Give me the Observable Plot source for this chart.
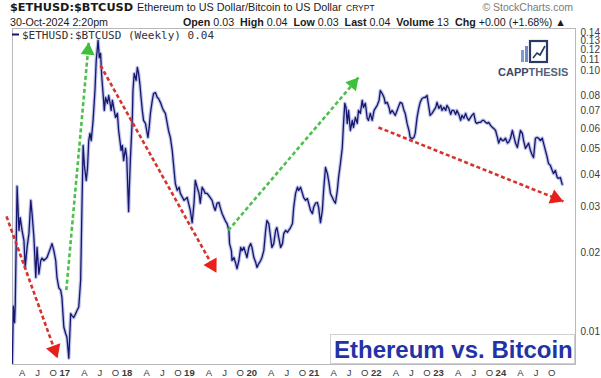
<!DOCTYPE html>
<html><head><meta charset="utf-8">
<script src="https://cdn.jsdelivr.net/npm/d3@7"></script>
<script src="https://cdn.jsdelivr.net/npm/@observablehq/plot@0.6"></script>
<style>
html,body{margin:0;padding:0;background:#fff;}
#wrap{position:relative;width:601px;height:378px;overflow:hidden;background:#fff;}
#wrap svg{position:absolute;left:0;top:0;}
</style></head><body><div id="wrap"></div>
<script>
// ETH/BTC weekly close (decimal year, ratio)
const years = [2016.09,2016.11,2016.13,2016.14,2016.17,2016.20,2016.22,2016.25,2016.28,2016.30,2016.33,2016.36,2016.39,2016.41,2016.44,2016.47,2016.49,2016.52,2016.55,2016.57,2016.60,2016.65,2016.71,2016.73,2016.76,2016.79,2016.81,2016.84,2016.87,2016.89,2016.92,2016.95,2016.97,2017.00,2017.03,2017.05,2017.08,2017.11,2017.13,2017.16,2017.19,2017.21,2017.23,2017.25,2017.28,2017.30,2017.32,2017.34,2017.36,2017.39,2017.42,2017.44,2017.47,2017.49,2017.51,2017.53,2017.55,2017.57,2017.59,2017.62,2017.64,2017.66,2017.68,2017.70,2017.72,2017.75,2017.78,2017.80,2017.82,2017.84,2017.86,2017.88,2017.91,2017.93,2017.94,2017.96,2017.97,2017.99,2018.02,2018.03,2018.05,2018.08,2018.10,2018.12,2018.14,2018.16,2018.18,2018.20,2018.23,2018.25,2018.27,2018.29,2018.31,2018.34,2018.36,2018.39,2018.42,2018.44,2018.47,2018.50,2018.52,2018.55,2018.58,2018.60,2018.63,2018.66,2018.69,2018.71,2018.74,2018.77,2018.79,2018.85,2018.90,2018.95,2018.98,2019.01,2019.03,2019.06,2019.09,2019.11,2019.14,2019.17,2019.19,2019.22,2019.27,2019.30,2019.33,2019.35,2019.38,2019.41,2019.43,2019.46,2019.49,2019.51,2019.54,2019.57,2019.58,2019.61,2019.62,2019.65,2019.68,2019.70,2019.73,2019.76,2019.78,2019.81,2019.84,2019.86,2019.89,2019.92,2019.94,2019.97,2020.00,2020.02,2020.05,2020.08,2020.10,2020.13,2020.16,2020.18,2020.21,2020.24,2020.26,2020.29,2020.32,2020.34,2020.37,2020.40,2020.43,2020.45,2020.48,2020.51,2020.53,2020.56,2020.59,2020.61,2020.64,2020.67,2020.69,2020.72,2020.75,2020.77,2020.80,2020.83,2020.85,2020.88,2020.91,2020.93,2020.96,2020.99,2021.01,2021.04,2021.07,2021.09,2021.12,2021.15,2021.17,2021.20,2021.23,2021.25,2021.28,2021.31,2021.33,2021.36,2021.39,2021.41,2021.43,2021.45,2021.47,2021.49,2021.52,2021.55,2021.57,2021.60,2021.63,2021.65,2021.68,2021.71,2021.73,2021.76,2021.79,2021.81,2021.84,2021.87,2021.90,2021.92,2021.95,2021.98,2022.00,2022.03,2022.06,2022.08,2022.11,2022.14,2022.16,2022.19,2022.22,2022.24,2022.27,2022.30,2022.32,2022.35,2022.38,2022.40,2022.43,2022.46,2022.48,2022.51,2022.54,2022.56,2022.59,2022.62,2022.64,2022.67,2022.70,2022.72,2022.75,2022.78,2022.80,2022.83,2022.86,2022.89,2022.91,2022.94,2022.97,2022.99,2023.02,2023.05,2023.07,2023.10,2023.13,2023.15,2023.18,2023.21,2023.23,2023.26,2023.29,2023.31,2023.34,2023.37,2023.39,2023.42,2023.45,2023.47,2023.50,2023.53,2023.55,2023.58,2023.61,2023.64,2023.66,2023.69,2023.72,2023.74,2023.77,2023.80,2023.82,2023.85,2023.88,2023.90,2023.93,2023.96,2023.98,2024.01,2024.04,2024.06,2024.09,2024.12,2024.14,2024.17,2024.20,2024.22,2024.25,2024.28,2024.30,2024.33,2024.36,2024.38,2024.41,2024.44,2024.46,2024.49,2024.52,2024.54,2024.57,2024.60,2024.62,2024.65,2024.68,2024.70,2024.73,2024.76,2024.78,2024.81,2024.84,2024.86,2024.89,2024.92];
const values = [0.0068,0.0125,0.0108,0.0126,0.0360,0.0244,0.0273,0.0244,0.0223,0.0176,0.0210,0.0237,0.0318,0.0283,0.0229,0.0161,0.0210,0.0166,0.0187,0.0191,0.0187,0.0192,0.0210,0.0217,0.0204,0.0187,0.0161,0.0147,0.0144,0.0135,0.0104,0.0098,0.0095,0.0079,0.0117,0.0115,0.0113,0.0117,0.0120,0.0124,0.0157,0.0291,0.0516,0.0433,0.0379,0.0421,0.0539,0.0574,0.0539,0.0644,0.0838,0.1092,0.1303,0.1120,0.1162,0.0940,0.0816,0.0703,0.0788,0.0748,0.0802,0.0755,0.0703,0.0768,0.0722,0.0661,0.0685,0.0589,0.0539,0.0494,0.0516,0.0452,0.0503,0.0464,0.0396,0.0288,0.0347,0.0464,0.0661,0.0838,0.0974,0.0916,0.1027,0.0974,0.0892,0.0788,0.0703,0.0644,0.0627,0.0589,0.0554,0.0605,0.0685,0.0768,0.0816,0.0823,0.0788,0.0781,0.0755,0.0722,0.0703,0.0685,0.0627,0.0589,0.0554,0.0494,0.0414,0.0369,0.0347,0.0357,0.0338,0.0318,0.0326,0.0291,0.0261,0.0310,0.0379,0.0357,0.0338,0.0310,0.0357,0.0347,0.0338,0.0338,0.0326,0.0318,0.0299,0.0291,0.0310,0.0312,0.0299,0.0283,0.0273,0.0266,0.0259,0.0244,0.0217,0.0204,0.0187,0.0192,0.0182,0.0174,0.0187,0.0210,0.0204,0.0210,0.0199,0.0192,0.0210,0.0217,0.0210,0.0192,0.0184,0.0176,0.0182,0.0187,0.0192,0.0204,0.0244,0.0266,0.0259,0.0229,0.0210,0.0217,0.0244,0.0250,0.0229,0.0210,0.0217,0.0237,0.0244,0.0240,0.0244,0.0250,0.0259,0.0299,0.0338,0.0357,0.0347,0.0357,0.0338,0.0326,0.0318,0.0323,0.0310,0.0291,0.0283,0.0299,0.0310,0.0312,0.0299,0.0261,0.0291,0.0347,0.0425,0.0403,0.0379,0.0338,0.0326,0.0318,0.0310,0.0347,0.0389,0.0440,0.0507,0.0627,0.0748,0.0722,0.0627,0.0703,0.0589,0.0644,0.0605,0.0661,0.0627,0.0703,0.0685,0.0768,0.0722,0.0748,0.0656,0.0644,0.0685,0.0644,0.0703,0.0716,0.0735,0.0768,0.0838,0.0816,0.0788,0.0748,0.0755,0.0722,0.0685,0.0703,0.0685,0.0673,0.0703,0.0735,0.0755,0.0748,0.0703,0.0685,0.0627,0.0589,0.0554,0.0548,0.0554,0.0574,0.0661,0.0722,0.0755,0.0781,0.0788,0.0788,0.0802,0.0722,0.0673,0.0685,0.0703,0.0722,0.0755,0.0716,0.0735,0.0703,0.0722,0.0703,0.0735,0.0716,0.0679,0.0703,0.0703,0.0679,0.0703,0.0679,0.0644,0.0673,0.0656,0.0685,0.0661,0.0644,0.0661,0.0673,0.0685,0.0633,0.0627,0.0633,0.0633,0.0644,0.0644,0.0633,0.0627,0.0633,0.0616,0.0605,0.0600,0.0589,0.0554,0.0527,0.0550,0.0539,0.0539,0.0550,0.0527,0.0531,0.0550,0.0589,0.0564,0.0527,0.0507,0.0539,0.0589,0.0574,0.0539,0.0503,0.0516,0.0527,0.0494,0.0473,0.0464,0.0550,0.0554,0.0550,0.0539,0.0550,0.0527,0.0494,0.0464,0.0440,0.0433,0.0414,0.0403,0.0414,0.0389,0.0386,0.0389,0.0366];

// trend arrows drawn on the chart (start -> end, decimal year / ratio)
const redX1 = [2016.00, 2017.51, 2021.97];
const redY1 = [0.0276, 0.1045, 0.0605];
const redX2 = [2016.82, 2019.37, 2024.94];
const redY2 = [0.0079, 0.0168, 0.0315];
const greenX1 = [2016.96, 2019.56];
const greenY1 = [0.0144, 0.0244];
const greenX2 = [2017.32, 2021.65];
const greenY2 = [0.1280, 0.0940];

const yTicks = [0.01,0.02,0.03,0.04,0.05,0.06,0.07,0.08,0.09,0.10,0.11,0.12,0.13,0.14];
const xTicks = [2016.25,2016.5,2016.75,2017,2017.25,2017.5,2017.75,2018,2018.25,2018.5,2018.75,2019,2019.25,2019.5,2019.75,2020,2020.25,2020.5,2020.75,2021,2021.25,2021.5,2021.75,2022,2022.25,2022.5,2022.75,2023,2023.25,2023.5,2023.75,2024,2024.25,2024.5,2024.75];
const xTickLabels = ["A","J","O","17","A","J","O","18","A","J","O","19","A","J","O","20","A","J","O","21","A","J","O","22","A","J","O","23","A","J","O","24","A","J","O"];

const data = years.map((t, i) => ({t, v: values[i]}));
const labelByTick = new Map(xTicks.map((t, i) => [t, xTickLabels[i]]));

const base = {
  width: 601, height: 378,
  marginLeft: 12, marginRight: 26, marginTop: 28, marginBottom: 14,
  x: {type: "linear", domain: [2016.0963, 2025.1332], ticks: xTicks,
      tickFormat: d => labelByTick.get(d) ?? "", tickSize: 0, tickPadding: 5, label: null},
  y: {type: "log", domain: [0.00747, 0.14485], ticks: yTicks, tickFormat: d => d.toFixed(2),
      axis: "right", tickSize: 0, tickPadding: 5, label: null},
  style: {fontFamily: "'Liberation Sans', Arial, sans-serif", fontSize: "10px", color: "#3a3a3a", background: "transparent", overflow: "visible"}
};

// probe scales to orient the filled arrow heads
const probe = Plot.plot({...base, marks: [Plot.frame()]});
const xs = probe.scale("x"), ys = probe.scale("y");
function arrows(X1, Y1, X2, Y2) {
  return X1.map((_, i) => ({x1: X1[i], y1: Y1[i], x2: X2[i], y2: Y2[i]}));
}
function heads(arr, r) {
  const back = 2 * r * 0.7776;
  return arr.map(a => {
    const px1 = xs.apply(a.x1), py1 = ys.apply(a.y1), px2 = xs.apply(a.x2), py2 = ys.apply(a.y2);
    const ang = Math.atan2(py2 - py1, px2 - px1);
    const cx = px2 - back * Math.cos(ang), cy = py2 - back * Math.sin(ang);
    return {x: xs.invert(cx), y: ys.invert(cy), rot: ang * 180 / Math.PI + 90};
  });
}
const redA = arrows(redX1, redY1, redX2, redY2);
const greenA = arrows(greenX1, greenY1, greenX2, greenY2);
const redH = heads(redA, 5.6), greenH = heads(greenA, 5.2);

const plot = Plot.plot({
  ...base,
  marks: [
    Plot.frame({stroke: "#b9b9b9"}),
    Plot.line(data, {x: "t", y: "v", stroke: "#a9b0e2", strokeWidth: 3.6, strokeOpacity: 0.75, clip: true}),
    Plot.line(data, {x: "t", y: "v", stroke: "#16176c", strokeWidth: 1.3, clip: true}),
    Plot.link(redA, {x1: "x1", y1: "y1", x2: "x2", y2: "y2", stroke: "#d8322c", strokeWidth: 2.6, strokeDasharray: "4,2.6"}),
    Plot.link(greenA, {x1: "x1", y1: "y1", x2: "x2", y2: "y2", stroke: "#4cc04a", strokeWidth: 2.6, strokeDasharray: "4,2.6"}),
    Plot.dot(redH, {x: "x", y: "y", rotate: "rot", symbol: "triangle", r: 5.6, fill: "#e8201c", stroke: "none"}),
    Plot.dot(greenH, {x: "x", y: "y", rotate: "rot", symbol: "triangle", r: 5.2, fill: "#3fc03a", stroke: "none"})
  ]
});

// style x tick labels (bold 2-digit years)
plot.querySelectorAll('g[aria-label="x-axis tick label"] text').forEach(t => {
  t.setAttribute("font-size", "9.5");
  if (/^\d\d$/.test(t.textContent)) { t.setAttribute("font-weight", "bold"); t.setAttribute("dx", "-4"); }
});
document.getElementById("wrap").appendChild(plot);

// header, legend, logo and caption overlay
const NS = "http://www.w3.org/2000/svg";
const ov = document.createElementNS(NS, "svg");
ov.setAttribute("width", 601); ov.setAttribute("height", 378);
ov.innerHTML = `
<g font-family="'Liberation Sans', Arial, sans-serif" fill="#1a1a1a">
  <text x="10" y="10.5" font-family="'DejaVu Sans', Verdana, sans-serif" font-weight="bold" font-size="11.3">$ETHUSD:$BTCUSD</text>
  <text x="137" y="10.5" font-size="10.8">Ethereum to US Dollar/Bitcoin to US Dollar</text>
  <text x="346" y="10.5" font-size="8.5">CRYPT</text>
  <text x="573" y="10.5" font-size="10.5" fill="#7a7a7a" text-anchor="end">© StockCharts.com</text>
  <text x="10" y="25.5" font-size="10.7">30-Oct-2024 2:20pm</text>
  <text x="183" y="25.5" font-size="10.7" xml:space="preserve"><tspan font-weight="bold">Open</tspan> 0.03  <tspan font-weight="bold">High</tspan> 0.04  <tspan font-weight="bold">Low</tspan> 0.03  <tspan font-weight="bold">Last</tspan> 0.04  <tspan font-weight="bold">Volume</tspan> 13  <tspan font-weight="bold">Chg</tspan> +0.00 (+1.68%) ▲</text>
  <line x1="12" x2="19" y1="34.5" y2="34.5" stroke="#16176c" stroke-width="2"/>
  <text x="22" y="38.5" font-family="'DejaVu Sans Mono', monospace" font-size="11" fill="#333">$ETHUSD:$BTCUSD (Weekly) 0.04</text>
  <g>
    <rect x="521" y="50" width="3" height="12" fill="#7f9bd0"/>
    <rect x="525" y="46" width="3" height="16" fill="#6f8cc6"/>
    <rect x="530" y="41" width="17" height="21" fill="none" stroke="#2a3a66" stroke-width="2.2"/>
    <polyline points="533,58 537,53 540,55 545,46" fill="none" stroke="#2a3a66" stroke-width="1.6"/>
    <text x="498" y="75.5" font-size="11" font-weight="bold" fill="#3b4766">CAPP<tspan fill="#56617d">THESIS</tspan></text>
  </g>
  <rect x="330.5" y="334.5" width="244" height="29" fill="#ffffff" stroke="#d0d0d0"/>
  <text x="334" y="357.5" font-size="24" font-weight="bold" fill="#2233a6">Ethereum vs. Bitcoin</text>
</g>`;
document.getElementById("wrap").appendChild(ov);
</script>
</body></html>
